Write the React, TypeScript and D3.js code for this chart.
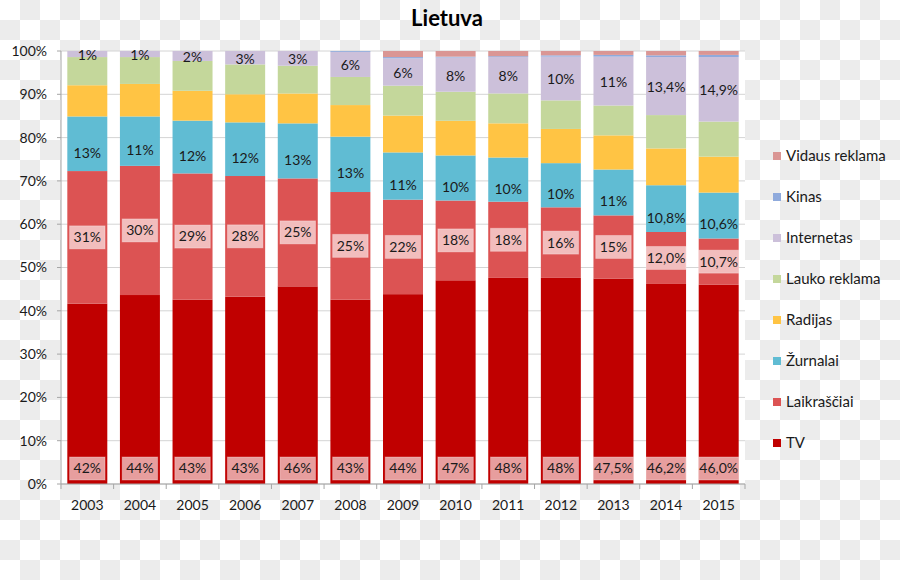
import React, { useMemo } from "react";
import * as d3 from "d3";

const years = ["2003","2004","2005","2006","2007","2008","2009","2010","2011","2012","2013","2014","2015"];

const tv =          [41.6, 43.6, 42.6, 43.3, 45.6, 42.6, 43.8, 47.0, 47.6, 47.6, 47.5, 46.2, 46.0];
const laikrasciai = [30.6, 29.8, 29.2, 27.9, 24.9, 24.9, 21.8, 18.4, 17.6, 16.3, 14.6, 12.0, 10.7];
const zurnalai =    [12.6, 11.4, 12.2, 12.4, 12.7, 12.8, 10.9, 10.4, 10.2, 10.2, 10.6, 10.8, 10.6];
const radijas =     [7.2, 7.5, 6.9, 6.5, 6.9, 7.3, 8.5, 8.0, 7.9, 7.9, 7.9, 8.5, 8.3];
const lauko =       [6.5, 6.2, 6.9, 6.9, 6.4, 6.5, 6.9, 6.7, 6.9, 6.6, 6.9, 7.7, 8.1];
const internetas =  [1.4, 1.4, 2.3, 3.1, 3.4, 5.8, 6.3, 7.9, 8.4, 10.1, 11.3, 13.4, 14.9];
const kinas =       [0, 0, 0, 0, 0, 0.2, 0.3, 0.2, 0.2, 0.3, 0.4, 0.4, 0.5];
const vidaus =      [0, 0, 0, 0, 0, 0, 1.4, 1.3, 1.2, 1.0, 0.9, 1.0, 0.9];

const tvDecimals =    [0,0,0,0,0,0,0,0,0,0,1,1,1];
const otherDecimals = [0,0,0,0,0,0,0,0,0,0,0,1,1];

const seriesNames = ["TV","Laikraščiai","Žurnalai","Radijas","Lauko reklama","Internetas","Kinas","Vidaus reklama"];
const seriesValues = [tv, laikrasciai, zurnalai, radijas, lauko, internetas, kinas, vidaus];
const seriesColors = ["#c00000","#dc5353","#60bcd3","#ffc444","#c4d79b","#ccc0da","#8faadc","#da9694"];
const yTicks = [0,0.1,0.2,0.3,0.4,0.5,0.6,0.7,0.8,0.9,1];

const FONT = "Lato, 'Open Sans', sans-serif";
const W = 900, H = 580;
const plot = { left: 61, right: 745, top: 51, bottom: 484 };

const locale = d3.formatLocale({ decimal: ",", thousands: " ", grouping: [3], currency: ["", "€"] });
const fmt = (v: number, d: number) => locale.format(`.${d}f`)(v) + "%";

let ctx: CanvasRenderingContext2D | null = null;
function textWidth(s: string, size: number) {
  if (!ctx) ctx = document.createElement("canvas").getContext("2d");
  if (!ctx) return s.length * size * 0.55;
  ctx.font = `${size}px Lato`;
  return ctx.measureText(s).width;
}

export default function App() {
  const rows = useMemo(() => years.map((yr, i) => {
    const r: any = { year: yr };
    seriesNames.forEach((n, k) => (r[n] = seriesValues[k][i]));
    return r;
  }), []);
  const stacked = useMemo(() => d3.stack().keys(seriesNames).offset(d3.stackOffsetExpand)(rows), [rows]);

  const x = d3.scaleBand().domain(years).range([plot.left, plot.right]).paddingInner(0.24).paddingOuter(0.12);
  const y = d3.scaleLinear().domain([0, 1]).range([plot.bottom, plot.top]);
  const step = x.step();
  const bounds = d3.range(years.length + 1).map(i => plot.left + i * step);
  const bw = x.bandwidth();
  const labelSize = 14;
  const boxH = 23;

  const labels: any[] = [];
  years.forEach((yr, i) => {
    const cx = (x(yr) as number) + bw / 2;
    // TV: inside base with box
    {
      const s = stacked[0][i];
      const t = fmt(tv[i], tvDecimals[i]);
      const w = Math.min(bw, textWidth(t, labelSize) + 8);
      const by = y(s[0]) - 4 - boxH;
      labels.push({ t, cx, cy: by + boxH / 2, box: { x: cx - w / 2, y: by, w, h: boxH } });
    }
    // Laikraščiai: centered with box
    {
      const s = stacked[1][i];
      const t = fmt(laikrasciai[i], otherDecimals[i]);
      const w = Math.min(bw, textWidth(t, labelSize) + 8);
      const cy = (y(s[0]) + y(s[1])) / 2;
      labels.push({ t, cx, cy, box: { x: cx - w / 2, y: cy - boxH / 2, w, h: boxH } });
    }
    // Žurnalai: slightly below center
    {
      const s = stacked[2][i];
      const t = fmt(zurnalai[i], otherDecimals[i]);
      labels.push({ t, cx, cy: (y(s[0]) + y(s[1])) / 2 + 9 });
    }
    // Internetas: centered
    {
      const s = stacked[5][i];
      const t = fmt(internetas[i], otherDecimals[i]);
      labels.push({ t, cx, cy: (y(s[0]) + y(s[1])) / 2 + 1 });
    }
  });

  const legendTop = 156, legendGap = 41;
  const legendItems = seriesNames.map((n, k) => ({ n, c: seriesColors[k] })).reverse();

  return (
    <svg width={W} height={H} style={{ position: "absolute", left: 0, top: 0, display: "block" }} fontFamily={FONT}>
      <defs>
        <pattern id="checker" width={40} height={40} patternUnits="userSpaceOnUse">
          <rect width={40} height={40} fill="#ffffff" />
          <rect x={20} y={0} width={20} height={20} fill="#ececec" />
          <rect x={0} y={20} width={20} height={20} fill="#ececec" />
        </pattern>
      </defs>
      <rect width={W} height={H} fill="url(#checker)" />
      <rect x={plot.left} y={plot.top} width={plot.right - plot.left} height={plot.bottom - plot.top} fill="#ffffff" />

      <text x={447} y={26} textAnchor="middle" fontSize={22} fontWeight="bold" fill="#000">Lietuva</text>

      {yTicks.map(t => (
        <g key={t}>
          <line x1={plot.left} x2={plot.right} y1={y(t)} y2={y(t)} stroke="#d4d4d4" strokeWidth={1} />
          <line x1={plot.left - 4} x2={plot.left} y1={y(t)} y2={y(t)} stroke="#a6a6a6" />
          <text x={47} y={y(t)} dy="0.35em" textAnchor="end" fontSize={14} fill="#1a1a1a">{d3.format(".0%")(t)}</text>
        </g>
      ))}

      {stacked.map((layer, k) => (
        <g key={k} fill={seriesColors[k]}>
          {layer.map((s, i) => (
            <rect key={i} x={x(years[i])} width={bw} y={y(s[1])} height={Math.max(0, y(s[0]) - y(s[1]))} />
          ))}
        </g>
      ))}

      <line x1={plot.left} x2={plot.left} y1={plot.top} y2={plot.bottom} stroke="#a6a6a6" />
      <line x1={plot.left} x2={plot.right} y1={plot.bottom} y2={plot.bottom} stroke="#a6a6a6" />
      {bounds.map((b, i) => (
        <line key={i} x1={b} x2={b} y1={plot.bottom} y2={plot.bottom + 5} stroke="#a6a6a6" />
      ))}
      {years.map(yr => (
        <text key={yr} x={(x(yr) as number) + bw / 2} y={505} dy="0.35em" textAnchor="middle" fontSize={14} fill="#1a1a1a">{yr}</text>
      ))}

      {labels.map((l, i) => (
        <g key={i}>
          {l.box && <rect x={l.box.x} y={l.box.y} width={l.box.w} height={l.box.h} fill="#ffffff" fillOpacity={0.62} stroke="#ffffff" strokeOpacity={0.3} />}
          <text x={l.cx} y={l.cy} dy="0.35em" textAnchor="middle" fontSize={labelSize} fill="#1a1a1a">{l.t}</text>
        </g>
      ))}

      {legendItems.map((it, i) => (
        <g key={it.n} transform={`translate(773,${legendTop + i * legendGap})`}>
          <rect x={0} y={-4} width={8} height={8} fill={it.c} />
          <text x={13} y={0} dy="0.35em" fontSize={15} fill="#1a1a1a">{it.n}</text>
        </g>
      ))}
    </svg>
  );
}
